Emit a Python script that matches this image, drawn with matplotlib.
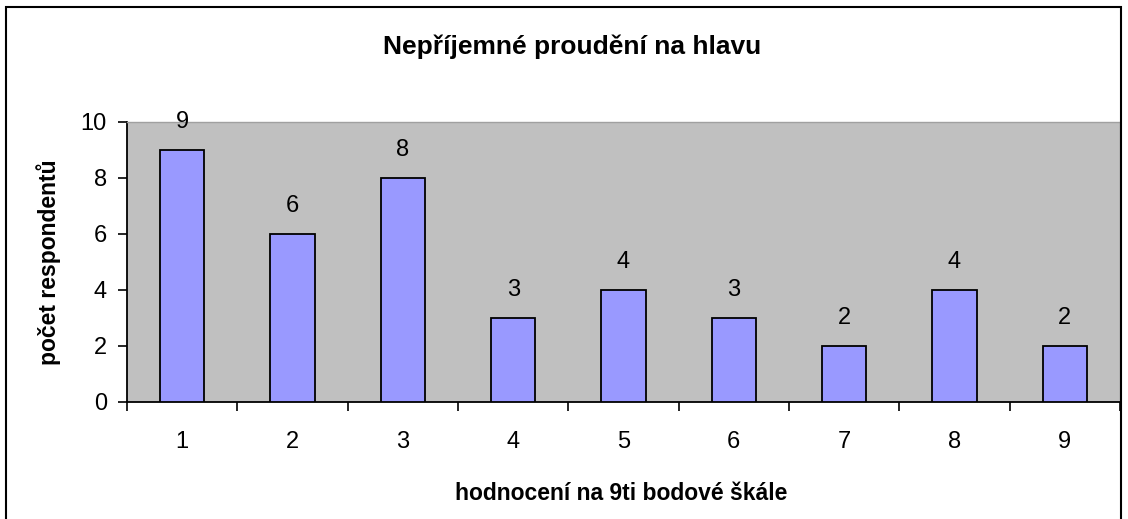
import matplotlib
matplotlib.use("Agg")
from matplotlib import pyplot as plt
from matplotlib.patches import Rectangle

categories = ["1", "2", "3", "4", "5", "6", "7", "8", "9"]
values = [9, 6, 8, 3, 4, 3, 2, 4, 2]
y_ticks = [0, 2, 4, 6, 8, 10]

plt.rcParams['font.family'] = ['Liberation Sans', 'DejaVu Sans']

W, H = 1128, 519
fig = plt.figure(figsize=(W / 100, H / 100), dpi=100)
ax = fig.add_axes([127 / W, 1 - 402 / H, (1120 - 127) / W, (402 - 122) / H])

x = list(range(len(categories)))
ax.bar(x, values, width=0.4, color="#9999FF", edgecolor="black", linewidth=1.3, zorder=3)
for xi, v in zip(x, values):
    ax.annotate(str(v), (xi, v), xytext=(0, 20), textcoords="offset points",
                ha="center", va="center", fontsize=17)

ax.set_facecolor("#C0C0C0")
ax.set_xlim(-0.5, len(categories) - 0.5)
ax.set_ylim(0, 10)
ax.set_yticks(y_ticks)
ax.set_xticks(x)
ax.set_xticklabels(categories)
ax.set_xticks([i - 0.5 for i in range(len(categories) + 1)], minor=True)
ax.tick_params(axis="x", which="major", length=0, pad=21, labelsize=17)
ax.tick_params(axis="x", which="minor", length=6.5, width=1.2, direction="out")
ax.tick_params(axis="y", length=6.5, width=1.2, direction="out", labelsize=17, pad=8)

for s in ["top", "right"]:
    ax.spines[s].set_color("#A0A0A0")
    ax.spines[s].set_linewidth(1)
for s in ["left", "bottom"]:
    ax.spines[s].set_color("black")
    ax.spines[s].set_linewidth(1.3)

fig.text(49 / W, 1 - 262 / H, "počet respondentů", rotation=90, ha="center", va="center",
         fontsize=16.5, fontweight="bold")
fig.text(621 / W, 1 - 493 / H, "hodnocení na 9ti bodové škále", ha="center", va="center",
         fontsize=16.5, fontweight="bold")
fig.text(572 / W, 1 - 47 / H, "Nepříjemné proudění na hlavu", ha="center", va="center",
         fontsize=19, fontweight="bold")

fig.patches.append(Rectangle((6 / W, -0.05), (1121 - 6) / W, 1.05 - 7 / H,
                             transform=fig.transFigure, fill=False, edgecolor="black", linewidth=1.5))

fig.savefig("out.png", dpi=100)
